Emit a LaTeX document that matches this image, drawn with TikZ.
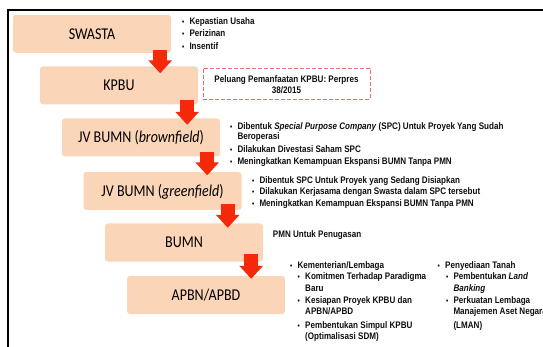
\documentclass[tikz,border=0pt]{standalone}
\usepackage{fontspec}
\usetikzlibrary{arrows.meta,calc}
\newfontfamily\labfont[FakeStretch=0.85]{Carlito}
\newfontfamily\itemfont[FakeStretch=0.85]{Liberation Sans}
\definecolor{boxfill}{RGB}{251,213,183}
\definecolor{arrred}{RGB}{245,40,10}
\definecolor{dashred}{RGB}{232,110,110}
\definecolor{txtcol}{RGB}{15,15,15}
\newcommand{\bul}{\llap{\makebox[7.5pt][l]{\fontsize{7.5}{7.5}\selectfont\raisebox{0.3pt}{\textbullet}}}}
\begin{document}
\begin{tikzpicture}[x=1pt,y=-1pt,
  stage/.style={fill=boxfill, rounded corners=3pt, minimum width=158pt, minimum height=38pt,
    inner sep=0pt, text height=12pt, text depth=1.4pt,
    font=\labfont\fontsize{16.5}{18}\selectfont, text=black},
  ln/.style={anchor=base west, inner sep=0pt, font=\itemfont\bfseries\fontsize{9.5}{11}\selectfont, text=txtcol},
  lnc/.style={ln, anchor=base},
  dashbox/.style={draw=dashred, line width=0.8pt, dash pattern=on 4pt off 2pt, minimum width=167pt, minimum height=31pt, inner sep=0pt},
  fatarr/.style={draw=arrred, line width=14pt, -{Triangle[width=23pt,length=13pt,fill=arrred]}}
]
\useasboundingbox (0,0) rectangle (543,347);
% frame
\draw[line width=2pt] (543,10) -- (8,10) -- (8,347);

% stage boxes
\node[stage] (swasta) at (92,33.8) {SWASTA};
\node[stage] (kpbu) at (119,85.5) {KPBU};
\node[stage] (brown) at (141,137.5) {JV BUMN (\textit{brownfield})};
\node[stage] (green) at (162.5,191) {JV BUMN (\textit{greenfield})};
\node[stage] (bumn) at (184,242.5) {BUMN};
\node[stage] (apbn) at (206,295) {APBN/APBD};

% arrows
\path (swasta.south east) ++(-11,-3) coordinate (a1);
\path (kpbu.south east) ++(-11,-4.5) coordinate (a2);
\path (brown.south east) ++(-13,-4.5) coordinate (a3);
\path (green.south east) ++(-14,-6) coordinate (a4);
\path (bumn.south east) ++(-12,-8) coordinate (a5);
\draw[fatarr] (a1) -- ($(a1 |- kpbu.north)+(0,7)$);
\draw[fatarr] (a2) -- ($(a2 |- brown.north)+(0,6.5)$);
\draw[fatarr] (a3) -- ($(a3 |- green.north)+(0,3.5)$);
\draw[fatarr] (a4) -- ($(a4 |- bumn.north)+(0,4.5)$);
\draw[fatarr] (a5) -- ($(a5 |- apbn.north)+(0,3)$);

% SWASTA list
\node[ln] (s1) at (189.3,25) {\bul Kepastian Usaha};
\node[ln] (s2) at (189.3,37) {\bul Perizinan};
\node[ln] (s3) at (189.3,49.5) {\bul Insentif};

% KPBU dashed note
\node[dashbox] (perpres) at (286.5,83.5) {};
\node[lnc] (p1) at (286.5,83) {Peluang Pemanfaatan KPBU: Perpres};
\node[lnc] (p2) at (286.5,94) {38/2015};

% brownfield list
\node[ln] (b1) at (237.3,129.5) {\bul Dibentuk \textit{Special Purpose Company} (SPC) Untuk Proyek Yang Sudah};
\node[ln] (b1b) at (237.3,139.5) {Beroperasi};
\node[ln] (b2) at (237.3,153) {\bul Dilakukan Divestasi Saham SPC};
\node[ln] (b3) at (237.3,165) {\bul Meningkatkan Kemampuan Ekspansi BUMN Tanpa PMN};

% greenfield list
\node[ln] (g1) at (259.3,183.5) {\bul Dibentuk SPC Untuk Proyek yang Sedang Disiapkan};
\node[ln] (g2) at (259.3,194.5) {\bul Dilakukan Kerjasama dengan Swasta dalam SPC tersebut};
\node[ln] (g3) at (259.3,207) {\bul Meningkatkan Kemampuan Ekspansi BUMN Tanpa PMN};

% BUMN
\node[ln] (m1) at (272.7,237) {PMN Untuk Penugasan};

% APBN lists
\node[ln] (k0) at (297.3,268.5) {\bul Kementerian/Lembaga};
\node[ln] (k1) at (305,279.5) {\bul Komitmen Terhadap Paradigma};
\node[ln] (k1b) at (305,291) {Baru};
\node[ln] (k2) at (305,303.5) {\bul Kesiapan Proyek KPBU dan};
\node[ln] (k2b) at (305,314) {APBN/APBD};
\node[ln] (k3) at (305,328.5) {\bul Pembentukan Simpul KPBU};
\node[ln] (k3b) at (305,339.5) {(Optimalisasi SDM)};

\node[ln] (t0) at (445,268.5) {\bul Penyediaan Tanah};
\node[ln] (t1) at (453.3,279.5) {\bul Pembentukan \textit{Land}};
\node[ln] (t1b) at (453.3,291) {\textit{Banking}};
\node[ln] (t2) at (453.3,303.5) {\bul Perkuatan Lembaga};
\node[ln] (t2b) at (453.3,314) {Manajemen Aset Negara};
\node[ln] (t2c) at (453.3,328.5) {(LMAN)};
\end{tikzpicture}
\end{document}
